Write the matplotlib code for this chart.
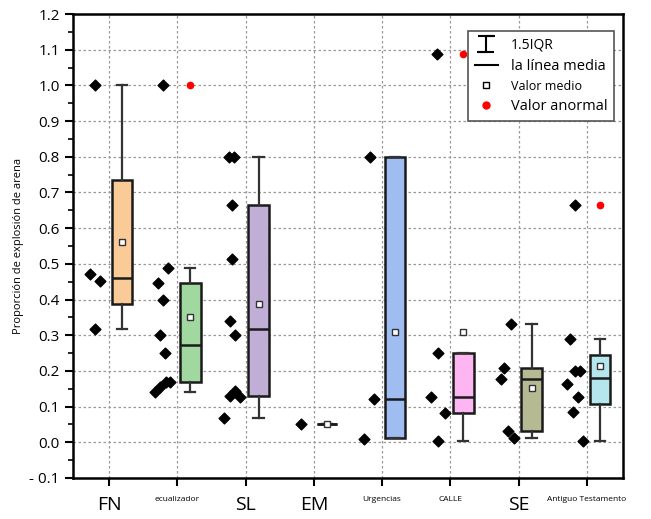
import numpy as np
import matplotlib.pyplot as plt
from matplotlib.lines import Line2D

plt.rcParams['font.family'] = ['Open Sans', 'DejaVu Sans']

categories = ["FN", "ecualizador", "SL", "EM", "Urgencias", "CALLE", "SE", "Antiguo Testamento"]
label_sizes = [14, 6, 14, 14, 6, 6, 14, 6]
colors = ["#FBCB97", "#A0D89F", "#C1AED6", "#FFFFFF", "#9FBDF0", "#FDB6F2", "#B6BA93", "#B5E6EE"]

# box statistics per category
q1 = [0.388, 0.168, 0.131, 0.05, 0.011, 0.083, 0.033, 0.106]
med = [0.461, 0.274, 0.318, 0.05, 0.120, 0.126, 0.178, 0.181]
q3 = [0.735, 0.447, 0.665, 0.05, 0.800, 0.251, 0.209, 0.244]
whislo = [0.318, 0.140, 0.067, 0.05, 0.011, 0.003, 0.013, 0.003]
whishi = [1.000, 0.489, 0.800, 0.05, 0.800, 0.251, 0.332, 0.290]
means = [0.561, 0.352, 0.388, 0.05, 0.310, 0.310, 0.153, 0.215]
outliers = [[], [1.0], [], [], [], [1.087], [], [0.665]]

# raw points shown beside each box
points = [
    [1.0, 0.472, 0.453, 0.318],
    [1.0, 0.489, 0.447, 0.40, 0.30, 0.249, 0.14, 0.156, 0.168, 0.17],
    [0.80, 0.80, 0.665, 0.514, 0.341, 0.30, 0.145, 0.131, 0.126, 0.067],
    [0.05],
    [0.80, 0.12, 0.008],
    [1.087, 0.251, 0.126, 0.083, 0.003],
    [0.332, 0.209, 0.178, 0.033, 0.011],
    [0.665, 0.29, 0.199, 0.199, 0.162, 0.128, 0.085, 0.003],
]
jitter = [
    [-14, -19, -9, -14],
    [-14, -9, -19, -14, -17, -12, -22, -17, -11, -7],
    [-17, -12, -14, -14, -16, -11, -11, -16, -6, -22],
    [-13],
    [-12, -8, -18],
    [-13, -12, -19, -5, -12],
    [-8, -15, -18, -11, -5],
    [-12, -17, -12, -7, -20, -9, -14, -4],
]

fig = plt.figure(figsize=(6.51, 5.19), dpi=100)
ax = fig.add_axes([0.112, 0.079, 0.845, 0.894])

pos = np.arange(1, len(categories) + 1)
stats = []
for i in range(len(categories)):
    stats.append(dict(med=med[i], q1=q1[i], q3=q3[i], whislo=whislo[i], whishi=whishi[i],
                      mean=means[i], fliers=outliers[i]))

bp = ax.bxp(stats, positions=pos + 0.19, widths=0.3, patch_artist=True, showmeans=True,
            boxprops=dict(linewidth=1.8, edgecolor='#1a1a1a'),
            medianprops=dict(color='#1a1a1a', linewidth=1.8),
            whiskerprops=dict(color='#333333', linewidth=1.6),
            capprops=dict(color='#333333', linewidth=1.6),
            meanprops=dict(marker='s', markerfacecolor='white', markeredgecolor='#333333',
                           markersize=4.5, markeredgewidth=1.0),
            flierprops=dict(marker='o', markerfacecolor='red', markeredgecolor='red', markersize=4.5),
            zorder=3)
for patch, c in zip(bp['boxes'], colors):
    patch.set_facecolor(c)

px = 1 / 68.0
for i, (vals, jit) in enumerate(zip(points, jitter)):
    xs = pos[i] + np.array(jit) * px
    ax.scatter(xs, vals, marker='D', s=30, color='black', zorder=4)

ax.set_xlim(0.47, 8.53)
ax.set_ylim(-0.1, 1.2)
ax.set_yticks(np.round(np.arange(-0.1, 1.21, 0.1), 1))
ax.set_yticklabels(["- 0.1"] + [f"{v:.1f}" for v in np.arange(0.0, 1.21, 0.1)], fontsize=11)
ax.set_yticks(np.arange(-0.05, 1.2, 0.1), minor=True)
ax.set_xticks(pos)
ax.set_xticklabels(categories)
for lab, s in zip(ax.get_xticklabels(), label_sizes):
    lab.set_fontsize(s)
ax.tick_params(axis='both', which='major', direction='out', length=6, width=1.5)
ax.tick_params(axis='y', which='minor', direction='out', length=3.5, width=1.2)
ax.tick_params(axis='x', pad=7)
for sp in ax.spines.values():
    sp.set_linewidth(1.8)
ax.grid(True, linestyle=(0, (2, 2)), color='#999999', linewidth=0.9, zorder=0)
ax.set_axisbelow(True)
ax.set_ylabel("Proporción de explosión de arena", fontsize=8)

i_shape = [(-1, 1), (1, 1), (0, 1), (0, -1), (-1, -1), (1, -1)]
h_iqr = Line2D([], [], linestyle='none', marker=i_shape, markersize=12, markerfacecolor='none',
               markeredgecolor='black', markeredgewidth=1.5)
h_med = Line2D([], [], color='black', linewidth=1.5)
h_mean = Line2D([], [], linestyle='none', marker='s', markerfacecolor='white',
                markeredgecolor='black', markersize=4)
h_out = Line2D([], [], linestyle='none', marker='o', color='red', markersize=5)
leg = ax.legend([h_iqr, h_med, h_mean, h_out], ["1.5IQR", "la línea media", "Valor medio", "Valor anormal"],
                loc='upper right', bbox_to_anchor=(0.984, 0.963), borderaxespad=0, fontsize=10.5,
                fancybox=False, framealpha=1, edgecolor='#555555', handlelength=1.6,
                labelspacing=0.42, borderpad=0.45, handletextpad=0.9)
leg.get_frame().set_linewidth(1.2)
leg.get_texts()[0].set_fontsize(10)
leg.get_texts()[2].set_fontsize(9)

fig.savefig("out.png", dpi=100)
